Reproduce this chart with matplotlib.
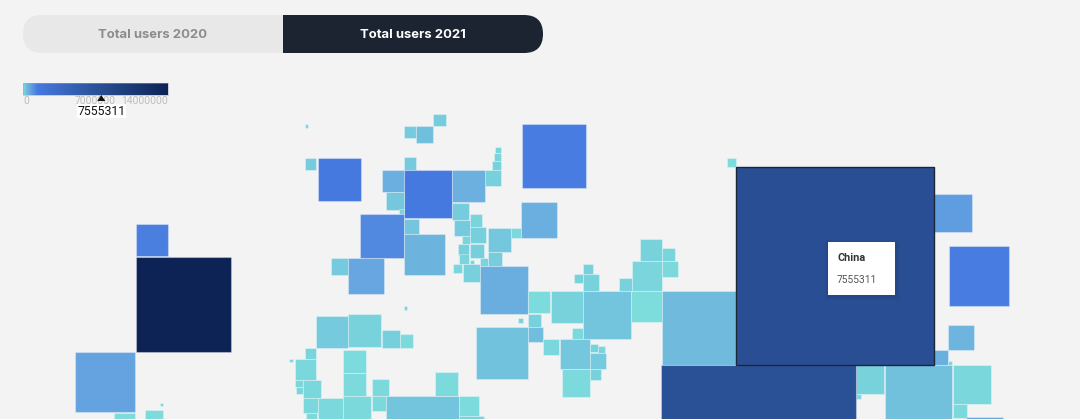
import numpy as np
import matplotlib
matplotlib.use("Agg")
import matplotlib.pyplot as plt
from matplotlib.colors import LinearSegmentedColormap, Normalize
from matplotlib.patches import Rectangle, FancyBboxPatch, Polygon

# ---- data: cartogram cells (map position, square side, users 2021) ----
map_x = [305.7, 404.7, 417, 433.7, 522.3, 495.7, 494.3, 493, 485.7, 305.3, 319, 404.3,
         382.3, 404.7, 453, 386.3, 400, 360.7, 404.3, 404.3, 453, 470.3, 454.3, 470.3,
         462.3, 459, 470.3, 460, 470.3, 454, 463.3, 480.7, 488.7, 488.7, 512, 522,
         480.7, 331.7, 349, 404.7,
         528.7, 551.3, 583.7, 631.7, 662.7, 583.7, 574.7, 583.7, 620, 632.7, 640.3,
         662.7, 662.7, 528.7, 518.3, 528.7, 476.3, 573, 544, 560.3, 590.7, 598.7,
         590.7, 590.7, 562.7,
         727.3, 934.7, 950, 949, 934.7, 949, 953.3, 953.3, 967, 885.3, 856.3, 856.3, 662,
         136.3, 136.3, 76, 114.3, 145.7, 160.7,
         316.7, 348.3, 382.3, 400.3, 305.7, 290, 295.7, 295.7, 296.3, 303.7, 303.7,
         306.7, 318.3, 343.7, 343.7, 343.7, 372.3, 372.3, 386.7, 435.3, 459.7, 460]
map_y = [125, 127, 127, 114.3, 125, 147.7, 154, 161.3, 170.3, 158.7, 158.7, 157.7,
         170.3, 170.3, 170.3, 192.3, 210, 214.7, 219.3, 234.3, 203.3, 215, 220.3, 227.3,
         236.3, 244.3, 244.3, 255, 261, 265, 265, 259, 229, 252.3, 229, 203,
         266.7, 258.3, 258.3, 307,
         291.7, 291.7, 291.7, 291.7, 291.7, 275, 275, 264.7, 279, 261.7, 239.3,
         248.3, 261.7, 314.7, 318.3, 327.7, 327.7, 329, 339.3, 339.7, 345, 347,
         353.3, 369.7, 369.7,
         158.3, 194.3, 246.3, 325.3, 351, 361.3, 365.7, 404.7, 418, 365.7, 366, 394.7, 366,
         257.3, 225, 353, 413.3, 410.3, 403.3,
         316.7, 314.3, 330.3, 335, 348.7, 359.3, 359.3, 380.3, 388, 380.3, 399,
         413.7, 399, 351, 373.7, 396.7, 379.3, 396.7, 396.7, 372.7, 396.7, 417]
cell_side = [3.3, 12, 16.5, 12.5, 64, 6.3, 7.5, 9, 16.3, 11.5, 42.7, 12.7,
             22, 48, 32.5, 18, 4.5, 43.5, 15, 41.3, 17, 12.3, 16, 16.3,
             8, 11, 14, 10, 4, 9, 17.3, 8, 23.3, 14, 10, 35.7,
             47.7, 17, 36, 3.3,
             22.3, 32.3, 47.7, 31, 74, 16.3, 9, 10, 12.3, 30, 22.3,
             13, 15.5, 12.5, 5.3, 15, 52, 10.3, 16, 30, 8, 6.5,
             16, 10.7, 27.7,
             9.3, 38, 60, 25.7, 14.3, 4, 38.5, 14, 37, 67.7, 28.7, 5, 194.5,
             95.3, 32, 60, 21.7, 18, 3.3,
             31.7, 33.7, 18, 13.3, 11, 3.7, 21, 7.5, 7, 18.3, 14.5,
             11.3, 25.3, 22.5, 22.7, 28.3, 17.3, 14.5, 72.7, 23.7, 19.7, 25]
users_2021 = [60000, 180000, 300000, 170000, 1350000, 100000, 100000, 110000, 130000, 170000, 1400000, 190000,
              520000, 1400000, 500000, 220000, 100000, 1150000, 230000, 450000, 170000, 100000, 180000, 140000,
              100000, 130000, 140000, 90000, 90000, 80000, 130000, 90000, 220000, 160000, 60000, 520000,
              530000, 180000, 650000, 120000,
              30000, 110000, 240000, 20000, 360000, 110000, 110000, 130000, 110000, 80000, 120000,
              90000, 50000, 130000, 120000, 320000, 270000, 60000, 70000, 220000, 110000, 100000,
              190000, 120000, 40000,
              30000, 800000, 1350000, 430000, 520000, 60000, 70000, 50000, 600000, 280000, 110000, 60000, 7300000,
              14000000, 1300000, 700000, 30000, 30000, 80000,
              190000, 120000, 150000, 40000, 100000, 70000, 70000, 70000, 80000, 70000, 70000,
              50000, 60000, 30000, 40000, 50000, 50000, 50000, 240000, 40000, 30000, 110000]

highlight_x = 736.7
highlight_y = 167.7
highlight_side = 197.7
highlight_users = 7555311
highlight_name = "China"

tab_labels = ["Total users 2020", "Total users 2021"]
scale_ticks = [0, 7000000, 14000000]

# ---- colour scale ----
scale_max = scale_ticks[-1]
stops = [(0, "#7DDEDC"), (300000, "#70BEDD"), (650000, "#67A6E0"), (1400000, "#4679E0"),
         (7000000, "#2B5299"), (14000000, "#0D2355")]
cmap = LinearSegmentedColormap.from_list(
    "users", [(v / scale_max, c) for v, c in stops], N=2048)
norm = Normalize(0, scale_max)

plt.rcParams["font.family"] = ["Roboto", "DejaVu Sans"]
bg = "#F3F3F3"
fig = plt.figure(figsize=(10.8, 4.19), dpi=100, facecolor=bg)
ax = fig.add_axes([0, 0, 1, 1])
ax.set_xlim(0, 1080)
ax.set_ylim(419, 0)
ax.axis("off")

# ---- squares ----
edge = (1, 1, 1, 0.30)
nudge = -0.6
for x, y, s, v in zip(map_x, map_y, cell_side, users_2021):
    ax.add_patch(Rectangle((x + nudge, y + nudge), s, s, facecolor=cmap(norm(v)),
                           edgecolor=edge, lw=0.8, zorder=2))
ax.add_patch(Rectangle((highlight_x + nudge, highlight_y + nudge), highlight_side, highlight_side,
                       facecolor=cmap(norm(highlight_users)), edgecolor="#1B2638", lw=1.0, zorder=3))

# ---- tabs ----
tab_l, tab_m, tab_r, tab_t, tab_b = 23, 283, 543, 15, 53
for (a, b, col, txt, tc) in [(tab_l, tab_m, "#E8E8E8", tab_labels[0], "#8C8C8C"),
                             (tab_m, tab_r, "#1C2432", tab_labels[1], "#FFFFFF")]:
    p = FancyBboxPatch((tab_l + 19, tab_t + 19), tab_r - tab_l - 38, 0,
                       boxstyle="round,pad=19,rounding_size=19", fc=col, ec="none", zorder=4)
    ax.add_patch(p)
    clip = Rectangle((a, tab_t - 1), b - a, tab_b - tab_t + 2, transform=ax.transData)
    p.set_clip_path(clip)
    ax.text((a + b) / 2, (tab_t + tab_b) / 2 + 0.6, txt, color=tc, fontsize=9.4, fontweight="bold",
            family=["Inter", "DejaVu Sans"], ha="center", va="center", zorder=5)

# ---- colour legend ----
grad = np.linspace(0, 1, 512)[None, :]
ax.imshow(grad, cmap=cmap, extent=(23, 168, 95, 83.5), aspect="auto", zorder=4, interpolation="bilinear")
ax.set_xlim(0, 1080)
ax.set_ylim(419, 0)
ax.add_patch(Rectangle((23, 83.5), 145, 11.5, fc="none", ec=(0.6, 0.65, 0.75, 0.5), lw=0.7, zorder=5))
ax.text(23, 100.8, f"{scale_ticks[0]}", color="#BDBDBD", fontsize=7.4, ha="left", va="center", zorder=5)
ax.text(95.5, 100.8, f"{scale_ticks[1]}", color="#BDBDBD", fontsize=7.4, ha="center", va="center", zorder=5)
ax.text(168, 100.8, f"{scale_ticks[2]}", color="#BDBDBD", fontsize=7.4, ha="right", va="center", zorder=5)
mx = 23 + 145 * highlight_users / scale_max
ax.add_patch(Polygon([(mx - 4, 101), (mx + 4, 101), (mx, 95)], fc="#111111", ec="none", zorder=6))
ax.text(mx, 111.2, f"{highlight_users}", color="#111111", fontsize=8.8, ha="center", va="center", zorder=6,
        bbox=dict(fc="white", ec="none", pad=0.3))

# ---- tooltip ----
tx, ty, tw, th = 827.7, 242.3, 67.3, 53
for d, a in [(3.5, 0.015), (2.5, 0.025), (1.5, 0.04)]:
    ax.add_patch(Rectangle((tx + 1 - d, ty + 1 - d), tw + 2 * d, th + 2 * d, fc="black", alpha=a, ec="none", zorder=7))
ax.add_patch(Rectangle((tx, ty), tw, th, fc="white", ec="none", zorder=8))
ax.text(837, 258, highlight_name, color="#333333", fontsize=7.8, fontweight="bold", ha="left", va="center", zorder=9)
ax.text(837, 280, f"{highlight_users}", color="#555555", fontsize=7.4, ha="left", va="center", zorder=9)

fig.savefig("out.png", dpi=100, facecolor=bg)
